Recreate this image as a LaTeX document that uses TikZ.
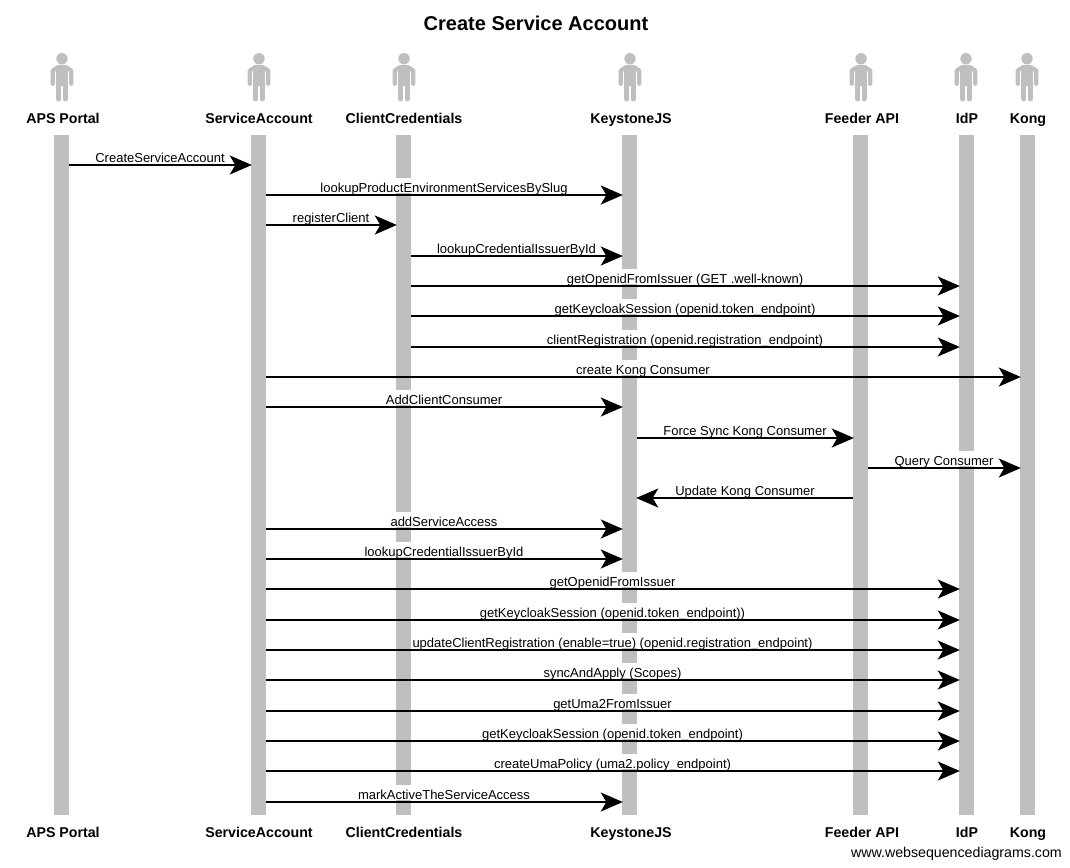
\documentclass[tikz,border=0pt]{standalone}
\usepackage{fontspec}
\setmainfont{Liberation Sans}
\usetikzlibrary{arrows.meta}
\tikzset{
	lifebar/.style={rectangle,fill=black!25,inner sep=0pt,minimum width=15pt,minimum height=680pt},
	actorname/.style={font=\fontsize{14.2}{16}\selectfont\bfseries,inner sep=0pt,anchor=base},
	msg/.style={black,line width=1.9pt,shorten >=-1pt,-{Stealth[length=22pt,width=19pt,inset=5.5pt]}},
	msgtext/.style={midway,above=1pt,fill=white,inner sep=0pt,text height=14pt,text depth=1pt,font=\fontsize{13}{15}\selectfont},
	actor/.pic={
		\fill[black!25](0,-7.3) circle (5.7);
		\fill[black!25,rounded corners=2.5pt](-5.8,-1) rectangle (5.8,20);
		\draw[black!25,line width=5pt,line cap=round](-3.1,18)--(-3.1,33);
		\draw[black!25,line width=5pt,line cap=round](3.1,18)--(3.1,33);
		\draw[black!25,line width=4.2pt,line cap=round,line join=round](-4,1.2)--(-9.2,4.5)--(-9.2,17.8);
		\draw[black!25,line width=4.2pt,line cap=round,line join=round](4,1.2)--(9.2,4.5)--(9.2,17.8);
	}
}
\begin{document}
\begin{tikzpicture}[x=1pt,y=-1pt]
	\useasboundingbox (0,0) rectangle (1070,867);
	\node[font=\fontsize{20}{22}\selectfont\bfseries,inner sep=0pt](title) at (536,23){Create Service Account};
	\node[font=\fontsize{14.2}{16}\selectfont,inner sep=0pt,anchor=base east](site) at (1062,857){www.websequencediagrams.com};

	% lifelines
	\node[lifebar](portal) at (61.5,475){};
	\node[lifebar](service) at (258.5,475){};
	\node[lifebar](client) at (403.5,475){};
	\node[lifebar](keystone) at (629.5,475){};
	\node[lifebar](feeder) at (860.5,475){};
	\node[lifebar](idp) at (966.5,475){};
	\node[lifebar](kong) at (1027.5,475){};

	% actors
	\pic at (62,66){actor};
	\pic at (259,66){actor};
	\pic at (404,66){actor};
	\pic at (630,66){actor};
	\pic at (861,66){actor};
	\pic at (966,66){actor};
	\pic at (1027,66){actor};

	\node[actorname](portaltop) at (63,123){APS Portal};
	\node[actorname](servicetop) at (259,123){ServiceAccount};
	\node[actorname](clienttop) at (404,123){ClientCredentials};
	\node[actorname](keystonetop) at (631,123){KeystoneJS};
	\node[actorname](feedertop) at (862,123){Feeder API};
	\node[actorname](idptop) at (967,123){IdP};
	\node[actorname](kongtop) at (1028,123){Kong};
	\node[actorname](portalend) at (63,837){APS Portal};
	\node[actorname](serviceend) at (259,837){ServiceAccount};
	\node[actorname](clientend) at (404,837){ClientCredentials};
	\node[actorname](keystoneend) at (631,837){KeystoneJS};
	\node[actorname](feederend) at (862,837){Feeder API};
	\node[actorname](idpend) at (967,837){IdP};
	\node[actorname](kongend) at (1028,837){Kong};

	% messages
	\coordinate (m1a) at (portal.east |- 0,165); \coordinate (m1b) at (service.west |- 0,165);
	\draw[msg](m1a)--(m1b) node[msgtext](t1){CreateServiceAccount};
	\coordinate (m2a) at (service.east |- 0,195); \coordinate (m2b) at (keystone.west |- 0,195);
	\draw[msg](m2a)--(m2b) node[msgtext](t2){lookupProductEnvironmentServicesBySlug};
	\coordinate (m3a) at (service.east |- 0,225); \coordinate (m3b) at (client.west |- 0,225);
	\draw[msg](m3a)--(m3b) node[msgtext](t3){registerClient};
	\coordinate (m4a) at (client.east |- 0,256); \coordinate (m4b) at (keystone.west |- 0,256);
	\draw[msg](m4a)--(m4b) node[msgtext](t4){lookupCredentialIssuerById};
	\coordinate (m5a) at (client.east |- 0,286); \coordinate (m5b) at (idp.west |- 0,286);
	\draw[msg](m5a)--(m5b) node[msgtext](t5){getOpenidFromIssuer (GET .well-known)};
	\coordinate (m6a) at (client.east |- 0,316); \coordinate (m6b) at (idp.west |- 0,316);
	\draw[msg](m6a)--(m6b) node[msgtext](t6){getKeycloakSession (openid.token\_endpoint)};
	\coordinate (m7a) at (client.east |- 0,347); \coordinate (m7b) at (idp.west |- 0,347);
	\draw[msg](m7a)--(m7b) node[msgtext](t7){clientRegistration (openid.registration\_endpoint)};
	\coordinate (m8a) at (service.east |- 0,377); \coordinate (m8b) at (kong.west |- 0,377);
	\draw[msg](m8a)--(m8b) node[msgtext](t8){create Kong Consumer};
	\coordinate (m9a) at (service.east |- 0,407); \coordinate (m9b) at (keystone.west |- 0,407);
	\draw[msg](m9a)--(m9b) node[msgtext](t9){AddClientConsumer};
	\coordinate (m10a) at (keystone.east |- 0,438); \coordinate (m10b) at (feeder.west |- 0,438);
	\draw[msg](m10a)--(m10b) node[msgtext](t10){Force Sync Kong Consumer};
	\coordinate (m11a) at (feeder.east |- 0,468); \coordinate (m11b) at (kong.west |- 0,468);
	\draw[msg](m11a)--(m11b) node[msgtext](t11){Query Consumer};
	\coordinate (m12a) at (feeder.west |- 0,498); \coordinate (m12b) at (keystone.east |- 0,498);
	\draw[msg](m12a)--(m12b) node[msgtext](t12){Update Kong Consumer};
	\coordinate (m13a) at (service.east |- 0,529); \coordinate (m13b) at (keystone.west |- 0,529);
	\draw[msg](m13a)--(m13b) node[msgtext](t13){addServiceAccess};
	\coordinate (m14a) at (service.east |- 0,559); \coordinate (m14b) at (keystone.west |- 0,559);
	\draw[msg](m14a)--(m14b) node[msgtext](t14){lookupCredentialIssuerById};
	\coordinate (m15a) at (service.east |- 0,589); \coordinate (m15b) at (idp.west |- 0,589);
	\draw[msg](m15a)--(m15b) node[msgtext](t15){getOpenidFromIssuer};
	\coordinate (m16a) at (service.east |- 0,620); \coordinate (m16b) at (idp.west |- 0,620);
	\draw[msg](m16a)--(m16b) node[msgtext](t16){getKeycloakSession (openid.token\_endpoint))};
	\coordinate (m17a) at (service.east |- 0,650); \coordinate (m17b) at (idp.west |- 0,650);
	\draw[msg](m17a)--(m17b) node[msgtext](t17){updateClientRegistration (enable=true) (openid.registration\_endpoint)};
	\coordinate (m18a) at (service.east |- 0,680); \coordinate (m18b) at (idp.west |- 0,680);
	\draw[msg](m18a)--(m18b) node[msgtext](t18){syncAndApply (Scopes)};
	\coordinate (m19a) at (service.east |- 0,711); \coordinate (m19b) at (idp.west |- 0,711);
	\draw[msg](m19a)--(m19b) node[msgtext](t19){getUma2FromIssuer};
	\coordinate (m20a) at (service.east |- 0,741); \coordinate (m20b) at (idp.west |- 0,741);
	\draw[msg](m20a)--(m20b) node[msgtext](t20){getKeycloakSession (openid.token\_endpoint)};
	\coordinate (m21a) at (service.east |- 0,771); \coordinate (m21b) at (idp.west |- 0,771);
	\draw[msg](m21a)--(m21b) node[msgtext](t21){createUmaPolicy (uma2.policy\_endpoint)};
	\coordinate (m22a) at (service.east |- 0,802); \coordinate (m22b) at (keystone.west |- 0,802);
	\draw[msg](m22a)--(m22b) node[msgtext](t22){markActiveTheServiceAccess};
\end{tikzpicture}
\end{document}
